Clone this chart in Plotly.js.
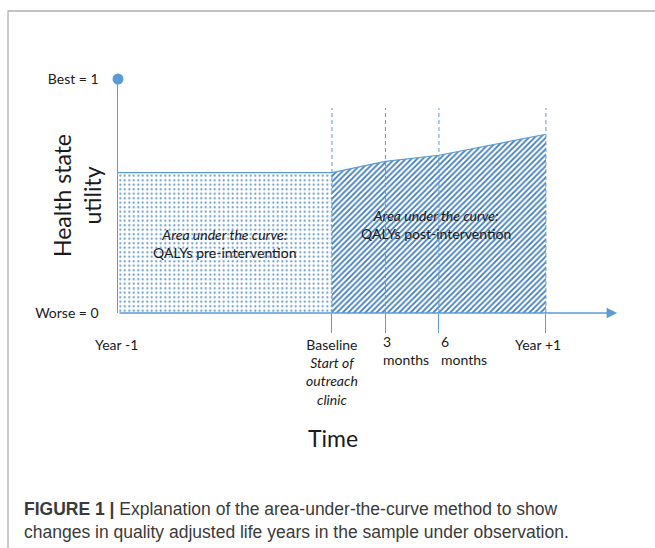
<!DOCTYPE html>
<html>
<head>
<meta charset="utf-8">
<script src="https://cdn.plot.ly/plotly-3.0.1.min.js"></script>
<style>
html,body{margin:0;padding:0;background:#fff;}
#chart{width:655px;height:548px;}
</style>
</head>
<body>
<div id="chart"></div>
<script>
// ---- data ----
const monthsPre = [-12, 0];
const utilityPre = [0.6, 0.6];
const monthsPost = [0, 3, 6, 12];
const utilityPost = [0.6, 0.648, 0.674, 0.764];
const markerMonths = [0, 3, 6, 12];
const yTickVals = [0, 1];
const yTickText = ['Worse = 0', 'Best = 1'];
const timeLabels = ['Year -1', 'Baseline<br><i>Start of<br>outreach<br>clinic</i>', '3<br>months', '6<br>months', 'Year +1'];
const timeLabelMonths = [-12, 0, 3, 6, 12];
const areaTexts = ['<i>Area under the curve:</i><br>QALYs pre-intervention', '<i>Area under the curve:</i><br>QALYs post-intervention'];
const captionLines = ['<b>FIGURE 1 |</b> Explanation of the area-under-the-curve method to show',
  'changes in quality adjusted life years in the sample under observation.'];

const BLUE = '#5b9bd5';
const TXT = '#1a1a1a';
const FONT = 'Lato, "Open Sans", sans-serif';

// plot geometry in pixels
const L = 118, R = 618, T = 79, B = 313;
const W = 655, H = 548;
const xRange = [-12, -12 + (R - L) / 17.83];
const py = p => (B - p) / (B - T);           // pixel row -> y data
const px = p => (p - L) / (R - L);           // pixel col -> paper x
const ppy = p => (B - p) / (B - T);          // pixel row -> paper y
const xToPaper = m => (m - xRange[0]) / (xRange[1] - xRange[0]);

const traces = [
  {
    x: monthsPre, y: utilityPre, mode: 'lines', fill: 'tozeroy',
    line: {color: BLUE, width: 1.2},
    fillcolor: 'white',
    fillpattern: {shape: '.', fgcolor: '#4f8ccd', bgcolor: 'white', size: 4.5, solidity: 0.16},
    hoverinfo: 'skip', showlegend: false
  },
  {
    x: monthsPost, y: utilityPost, mode: 'lines', fill: 'tozeroy',
    line: {color: BLUE, width: 1.2},
    fillcolor: 'white',
    fillpattern: {shape: '/', fgcolor: '#3f7cbf', bgcolor: 'white', size: 4, solidity: 0.45},
    hoverinfo: 'skip', showlegend: false
  },
  {
    x: [monthsPre[0]], y: [1], mode: 'markers', cliponaxis: false,
    marker: {color: BLUE, size: 11}, hoverinfo: 'skip', showlegend: false
  }
];

const shapes = [];
// figure frame
shapes.push({type: 'rect', xref: 'paper', yref: 'paper',
  x0: px(8), x1: px(670), y0: ppy(560), y1: ppy(11),
  line: {color: '#b0b0b0', width: 1.3}, fillcolor: 'rgba(0,0,0,0)', layer: 'below'});
// dashed verticals
markerMonths.forEach(m => {
  shapes.push({type: 'line', xref: 'x', yref: 'y', x0: m, x1: m, y0: 0, y1: py(108),
    line: {color: BLUE, width: 1, dash: '4px,3px'}});
});

const annotations = [];
// x-axis arrow
annotations.push({x: xRange[1] - 0.05, y: 0, ax: xRange[0], ay: 0, xref: 'x', yref: 'y', axref: 'x', ayref: 'y',
  text: '', showarrow: true, arrowhead: 2, arrowsize: 1.4, arrowwidth: 1.5, arrowcolor: BLUE});
// time labels
const labelCfg = [
  {xanchor: 'center', align: 'center', xshift: -2, top: 334},
  {xanchor: 'center', align: 'center', xshift: 0, top: 334},
  {xanchor: 'left', align: 'left', xshift: -4, top: 331},
  {xanchor: 'left', align: 'left', xshift: 0, top: 331},
  {xanchor: 'center', align: 'center', xshift: -8, top: 334}
];
timeLabels.forEach((t, i) => {
  const c = labelCfg[i];
  annotations.push({x: xToPaper(timeLabelMonths[i]), y: ppy(c.top),
    xref: 'paper', yref: 'paper', yanchor: 'top', xanchor: c.xanchor, align: c.align, xshift: c.xshift,
    text: t, showarrow: false, font: {family: FONT, size: 14, color: TXT}});
});
// area texts
annotations.push({x: px(224), y: ppy(244), xref: 'paper', yref: 'paper', xanchor: 'center', yanchor: 'middle',
  text: areaTexts[0], showarrow: false, font: {family: FONT, size: 14, color: TXT}, align: 'center'});
annotations.push({x: px(436), y: ppy(224), xref: 'paper', yref: 'paper', xanchor: 'center', yanchor: 'middle',
  text: areaTexts[1], showarrow: false, font: {family: FONT, size: 14, color: TXT}, align: 'center'});
// y title
annotations.push({x: px(77), y: ppy(196), xref: 'paper', yref: 'paper', xanchor: 'center', yanchor: 'middle',
  text: 'Health state<br>utility', textangle: -90, showarrow: false,
  font: {family: FONT, size: 23, color: TXT}, align: 'center'});
// x title
annotations.push({x: px(333), y: ppy(438), xref: 'paper', yref: 'paper', xanchor: 'center', yanchor: 'middle',
  text: 'Time', showarrow: false, font: {family: FONT, size: 23, color: TXT}});
// caption
captionLines.forEach((t, i) => {
  annotations.push({x: px(22), y: ppy(509 + 23 * i), xref: 'paper', yref: 'paper', xanchor: 'left', yanchor: 'middle',
    align: 'left', text: t, showarrow: false,
    font: {family: '"Liberation Sans", Arial, sans-serif', size: 17.5, color: '#3a3a3a'}});
});

const layout = {
  width: W, height: H,
  margin: {l: L, r: W - R, t: T, b: H - B, pad: 0},
  paper_bgcolor: 'white', plot_bgcolor: 'white',
  showlegend: false,
  xaxis: {range: xRange, showgrid: false, zeroline: false, showline: false,
    tickvals: markerMonths, ticktext: markerMonths.map(() => ''), ticks: 'outside', ticklen: 19,
    tickcolor: BLUE, tickwidth: 1, fixedrange: true},
  yaxis: {range: [0, 1], showgrid: false, zeroline: false, showline: true, linecolor: BLUE, linewidth: 1.5,
    tickvals: yTickVals, ticktext: yTickText, ticks: '', ticklabelstandoff: 15,
    tickfont: {family: FONT, size: 14, color: TXT}, fixedrange: true},
  shapes: shapes,
  annotations: annotations
};

Plotly.newPlot('chart', traces, layout, {displayModeBar: false, staticPlot: true});
</script>
</body>
</html>
